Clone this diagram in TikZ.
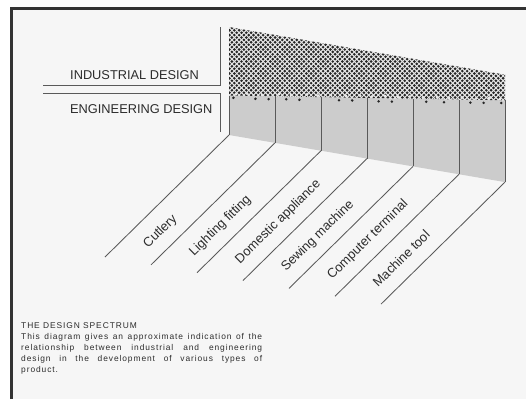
\documentclass[tikz,border=0pt]{standalone}
\usepackage{fontspec}
\setmainfont{Liberation Sans}
\usetikzlibrary{calc}
\definecolor{paper}{HTML}{F6F6F6}
\definecolor{ink}{HTML}{2C2C2C}
\definecolor{rulec}{HTML}{5A5A5A}
\definecolor{dotc}{HTML}{262626}
\definecolor{darkbg}{HTML}{E8E8E8}
\definecolor{lightwall}{HTML}{CCCCCC}
\begin{document}
\begin{tikzpicture}[x=1pt,y=-1pt,
  hdr/.style={anchor=base west, inner sep=0pt, font=\fontsize{12.8}{14}\selectfont, text=ink},
  prod/.style={anchor=base west, inner sep=0pt, rotate=44.5, font=\fontsize{13}{15}\selectfont, text=ink},
  rulel/.style={draw=rulec, line width=1pt},
  floorline/.style={draw=rulec, line width=0.85pt},
  divider/.style={draw=black!65, line width=0.9pt}]
\useasboundingbox (0,0) rectangle (526,399);
\fill[white] (0,0) rectangle (526,399);
\fill[paper] (11,8) rectangle (526,399);
\draw[line width=2.6pt, black!80] (11.3,399) -- (11.3,8.3) -- (526,8.3);

% wall corners
\foreach \i in {0,...,6} {
  \coordinate (t\i) at ({229+46*\i},{27+7.95*\i});
  \coordinate (m\i) at ({229+46*\i},{95.5+0.8*\i});
  \coordinate (b\i) at ({229+46*\i},{135+7.85*\i});
}
% light (engineering) part
\fill[lightwall] (m0) -- (m6) -- (b6) -- (b0) -- cycle;
% dark (industrial) part
\begin{scope}
  \clip (t0) -- (t6) -- (m6) -- (m0) -- cycle;
  \fill[darkbg] (t0) -- (t6) -- (m6) -- (m0) -- cycle;
  \foreach \r [evaluate=\r as \off using {mod(\r,2)*2.4}] in {0,...,32} {
    \foreach \c in {0,...,58} {
      \fill[dotc] ({229.5+\c*4.8+\off},{25.5+\r*2.4}) circle (1.45);
    }
  }
  % white speckles along the ragged transition
  \foreach \x/\y in {236/94,247/93.5,262/95,279/94,291/95,307/94.5,318/95.5,331/95,346/96,360/95.5,372/96.5,385/96,398/97,410/96.5,423/97.5,437/97,449/98,462/97.5,476/98.5,489/98,500/99} {
    \fill[darkbg] (\x,\y) circle (1.6);
  }
\end{scope}
% ragged pendants below the boundary
\foreach \x/\y in {233.4/97.8,255.4/98.8,268.6/99.2,286.2/99.3,299.4/99.8,339/100.2,352.2/100.4,378.6/101.3,391.8/101.6,426.2/101.8,444/102.2,470.4/102.6,483.6/102.8,501.2/103} {
  \fill[dotc] (\x,\y) circle (1.4);
}
% dividers
\foreach \i in {0,...,6} {
  \draw[divider] (m\i) -- (b\i);
}
% floor lines
\foreach \i in {0,...,6} {
  \coordinate (e\i) at ($(b\i)+(-124,122)$);
  \draw[floorline] (b\i) -- (e\i);
}
% product labels
\node[prod] (l0) at ($(b0)+(-81,113.5)$) {Cutlery};
\node[prod] (l1) at ($(b1)+(-81,113.5)$) {Lighting fitting};
\node[prod] (l2) at ($(b2)+(-81,113.5)$) {Domestic appliance};
\node[prod] (l3) at ($(b3)+(-81,113.5)$) {Sewing machine};
\node[prod] (l4) at ($(b4)+(-81,113.5)$) {Computer terminal};
\node[prod] (l5) at ($(b5)+(-81,113.5)$) {Machine tool};

% header labels and their rules
\coordinate (h1a) at (43,85.3);
\coordinate (h1b) at (220,85.3);
\coordinate (v1t) at (220,27);
\coordinate (h2a) at (43,93.5);
\coordinate (h2b) at (220,93.5);
\coordinate (v2b) at (220,132);
\draw[rulel] (h1a) -- (h1b) -- (v1t);
\draw[rulel] (h2a) -- (h2b) -- (v2b);
\node[hdr] (ind) at (70,79) {INDUSTRIAL DESIGN};
\node[hdr] (eng) at (70,113) {ENGINEERING DESIGN};

% caption
\node[anchor=north west, inner sep=0pt, text width=241pt, align=justify, text=ink,
  font=\fontsize{8.4}{11}\selectfont\addfontfeatures{LetterSpace=11}] (cap) at (21,322)
  {THE DESIGN SPECTRUM\\
   This diagram gives an approximate indication of the\linebreak
   relationship between industrial and engineering\linebreak
   design in the development of various types of\linebreak
   product.};
\end{tikzpicture}
\end{document}
